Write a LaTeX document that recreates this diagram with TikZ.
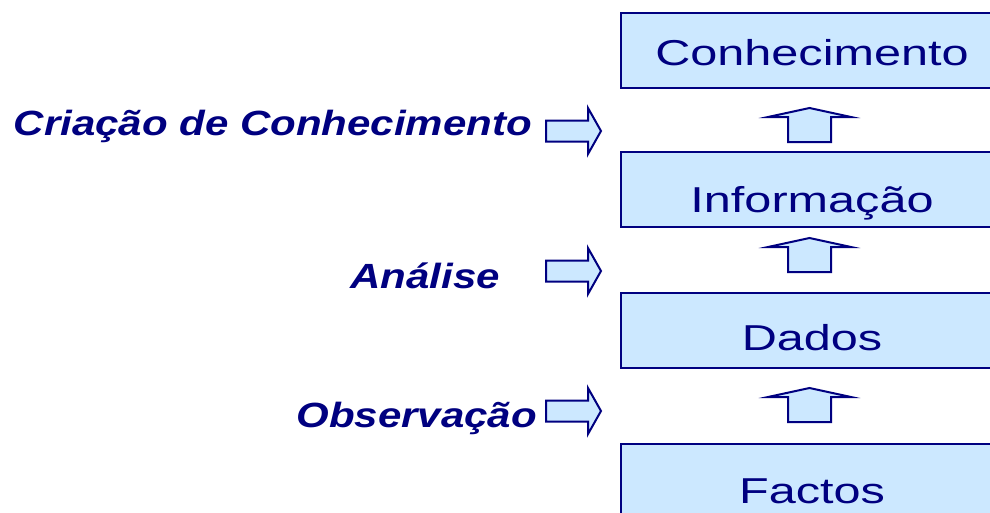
\documentclass[tikz,border=0pt]{standalone}
\usepackage{fontspec}
\newfontfamily\arial{Liberation Sans}
\definecolor{navy}{RGB}{0,0,128}
\definecolor{skyfill}{RGB}{204,232,255}

\tikzset{
  level/.style={draw=navy, fill=skyfill, line width=2pt, minimum width=382pt,
    minimum height=75pt, inner sep=0pt},
  leveltext/.style={text=navy, font=\arial\fontsize{36}{36}\selectfont,
    anchor=base, inner sep=0pt},
  process/.style={text=navy, font=\arial\bfseries\itshape\fontsize{35}{35}\selectfont,
    anchor=base east, inner sep=0pt},
  blockarrow/.style={draw=navy, fill=skyfill, line width=2pt, line join=miter}
}

% hollow arrows, tip given
\newcommand{\blockup}[2]{%
  \draw[blockarrow] (#1-21.5,#2+34) -- (#1-21.5,#2+9) -- (#1-41.5,#2+9) -- (#1,#2)
    -- (#1+41.5,#2+9) -- (#1+21.5,#2+9) -- (#1+21.5,#2+34) -- cycle;}
\newcommand{\blockright}[2]{%
  \draw[blockarrow] (#1-55,#2-10.5) -- (#1-13,#2-10.5) -- (#1-13,#2-23) -- (#1,#2)
    -- (#1-13,#2+23) -- (#1-13,#2+10.5) -- (#1-55,#2+10.5) -- cycle;}

\begin{document}
\begin{tikzpicture}[x=1pt, y=-1pt]
    \fill[white] (0,0) rectangle (990,512);
    \clip (0,0) rectangle (990,512);

    % Levels
      \node[level] (conhecimento) at (812,50) {};
      \node[level] (informacao)   at (812,189) {};
      \node[level] (dados)        at (812,330.5) {};
      \node[level] (factos)       at (812,481.5) {};

      \node[leveltext] (tconhecimento) at (812,65)  {\scalebox{1.35}[1]{Conhecimento}};
      \node[leveltext] (tinformacao)   at (812,212) {\scalebox{1.35}[1]{Informação}};
      \node[leveltext] (tdados)        at (812,350) {\scalebox{1.35}[1]{Dados}};
      \node[leveltext] (tfactos)       at (812,503) {\scalebox{1.35}[1]{Factos}};

    % Processes
      \node[process] (criacao)    at (532,135) {\scalebox{1.2}[1]{Criação de Conhecimento}};
      \node[process] (analise)    at (500,288) {\scalebox{1.2}[1]{Análise}};
      \node[process] (observacao) at (537,427) {\scalebox{1.2}[1]{Observação}};

    % Arrows
      \blockright{601}{131}
      \blockright{601}{271}
      \blockright{601}{411}

      \blockup{809.5}{108}
      \blockup{809.5}{238}
      \blockup{809.5}{388}
\end{tikzpicture}
\end{document}
